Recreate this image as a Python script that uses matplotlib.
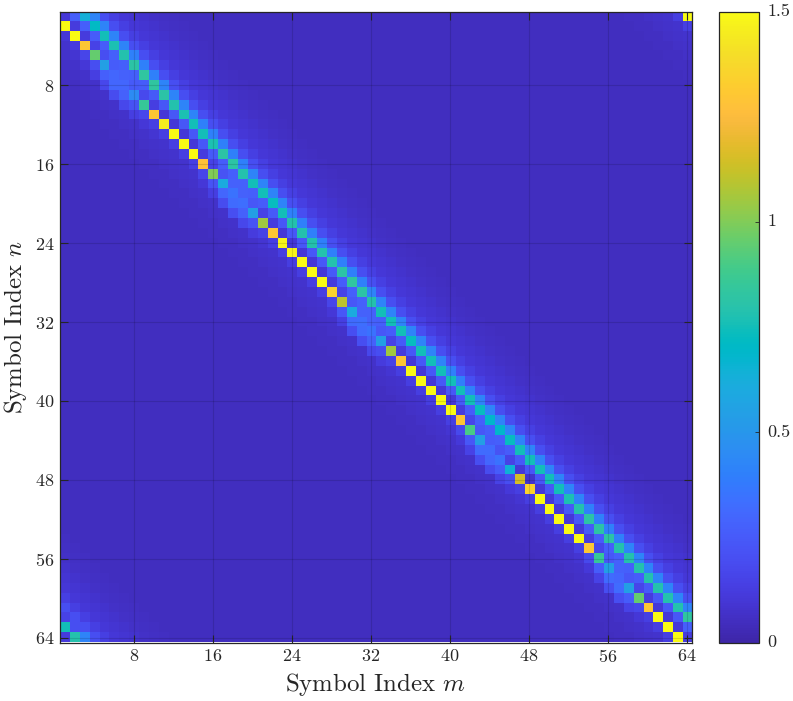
import numpy as np
import matplotlib
matplotlib.use("Agg")
import matplotlib.pyplot as plt
from matplotlib.colors import LinearSegmentedColormap

plt.rcParams['font.family'] = ['cmr10', 'DejaVu Sans']
plt.rcParams['mathtext.fontset'] = 'cm'
plt.rcParams['axes.formatter.use_mathtext'] = True

# values read per diagonal, indexed by column m = 1..64, wrapping round the matrix
below_1 = [1.5,1.5,1.3,.95,.55,.3,.3,.45,.85,1.3,1.45,1.5,1.5,1.5,1.28,1.0,
           .6,.35,.33,.55,1.05,1.3,1.48,1.48,1.5,1.5,1.5,1.35,1.1,.6,.33,.35,
           .55,1.05,1.3,1.5,1.5,1.5,1.5,1.5,1.3,.9,.55,.32,.35,.65,1.15,1.35,
           1.5,1.5,1.5,1.5,1.5,1.3,.85,.55,.3,.55,.95,1.3,1.5,1.5,1.5,1.5]
above_2 = [.75,.79,.63,.71,.75,.77,.79,.81,.83,.83,.81,.79,.77,.75,.75,.77,
           .81,.81,.79,.75,.75,.73,.75,.79,.79,.79,.79,.79,.81,.83,.81,.79,
           .75,.75,.75,.73,.75,.75,.75,.75,.75,.75,.73,.69,.69,.73,.75,.75,
           .75,.75,.75,.77,.79,.81,.81,.81,.79,.79,.79,.79,.79,.79,.79,.83]
above_3 = [.15,.2,.42,.42,.42,.42,.42,.4,.4,.4,.42,.42,.42,.42,.4,.4,
           .4,.4,.4,.42,.42,.42,.42,.4,.4,.4,.4,.4,.4,.4,.4,.42,
           .42,.42,.42,.42,.42,.42,.42,.4,.4,.4,.42,.42,.42,.42,.42,.42,
           .42,.42,.42,.42,.42,.4,.4,.4,.4,.42,.42,.42,.42,.42,.42,.42]
above_1 = [.12,.27,.27,.26,.26,.27,.27,.27,.26,.25,.24,.24,.24,.24,.24,.25,
           .26,.27,.28,.27,.26,.25,.24,.24,.24,.24,.24,.25,.26,.27,.28,.28,
           .27,.26,.25,.24,.24,.24,.24,.24,.25,.26,.27,.27,.27,.26,.25,.24,
           .24,.24,.24,.24,.24,.25,.26,.27,.28,.27,.26,.25,.24,.24,.24,.27]
on_diag = [.1,.12,.12,.15,.2,.26,.28,.25,.18,.13,.1,.1,.1,.1,.12,.15,
           .22,.28,.28,.24,.15,.12,.1,.1,.1,.1,.1,.12,.15,.24,.28,.28,
           .24,.15,.12,.1,.1,.1,.1,.1,.12,.16,.24,.26,.22,.15,.1,.08,
           .1,.1,.1,.1,.1,.12,.16,.24,.28,.24,.16,.12,.1,.1,.1,.12]
below_2 = [.1,.12,.16,.2,.27,.3,.28,.22,.17,.14,.13,.13,.13,.13,.16,.22,
           .3,.32,.28,.22,.15,.13,.13,.13,.13,.13,.13,.16,.24,.32,.32,.28,
           .2,.15,.13,.13,.13,.13,.13,.14,.18,.24,.32,.3,.26,.2,.14,.13,
           .13,.13,.13,.13,.14,.18,.26,.32,.32,.26,.17,.14,.13,.13,.13,.14]
below_3 = [.08,.09,.1,.13,.17,.19,.17,.13,.1,.09,.08,.08,.08,.08,.1,.13,
           .19,.2,.17,.12,.09,.08,.08,.08,.08,.08,.08,.1,.14,.2,.2,.17,
           .12,.09,.08,.08,.08,.08,.08,.09,.11,.15,.2,.19,.15,.11,.09,.08,
           .08,.08,.08,.08,.09,.11,.15,.2,.2,.15,.1,.09,.08,.08,.08,.08]

# the rest of the band only changes with distance from the diagonal
above_far = [.2, .14, .105, .09, .078, .068, .06, .055]   # m-n = 4..11
below_far = [.075, .065, .058, .053]                      # n-m = 4..7
floor_level = .048

n_sym = 64
tick_vals = [8, 16, 24, 32, 40, 48, 56, 64]
cbar_ticks = [0, .5, 1, 1.5]
cbar_labels = ['0', '0.5', '1', '1.5']

# parula
parula_rgb = [
    [.2422,.1504,.6603],[.2504,.1650,.7076],[.2578,.1818,.7511],[.2647,.1978,.7952],
    [.2706,.2147,.8364],[.2751,.2342,.8710],[.2783,.2559,.8991],[.2803,.2782,.9221],
    [.2813,.3006,.9414],[.2810,.3228,.9579],[.2795,.3447,.9717],[.2760,.3667,.9829],
    [.2699,.3892,.9906],[.2602,.4123,.9952],[.2440,.4358,.9988],[.2206,.4603,.9973],
    [.1963,.4847,.9892],[.1834,.5074,.9798],[.1786,.5289,.9682],[.1764,.5499,.9520],
    [.1687,.5703,.9359],[.1540,.5902,.9218],[.1460,.6091,.9079],[.1380,.6276,.8973],
    [.1248,.6459,.8883],[.1113,.6635,.8763],[.0952,.6798,.8598],[.0689,.6948,.8394],
    [.0297,.7082,.8163],[.0036,.7203,.7917],[.0067,.7312,.7660],[.0433,.7411,.7394],
    [.0964,.7500,.7120],[.1408,.7584,.6842],[.1717,.7670,.6554],[.1938,.7758,.6251],
    [.2161,.7843,.5923],[.2470,.7918,.5567],[.2906,.7973,.5188],[.3406,.8008,.4789],
    [.3909,.8029,.4354],[.4456,.8024,.3909],[.5044,.7993,.3480],[.5616,.7942,.3045],
    [.6174,.7876,.2612],[.6720,.7793,.2227],[.7242,.7698,.1910],[.7738,.7598,.1646],
    [.8203,.7498,.1535],[.8634,.7406,.1596],[.9035,.7330,.1774],[.9393,.7288,.2100],
    [.9728,.7298,.2394],[.9956,.7434,.2371],[.9970,.7659,.2199],[.9952,.7861,.1963],
    [.9892,.8086,.1827],[.9786,.8297,.1764],[.9676,.8518,.1683],[.9610,.8741,.1530],
    [.9597,.8994,.1361],[.9628,.9256,.1205],[.9691,.9517,.1052],[.9769,.9839,.0805]]
parula = LinearSegmentedColormap.from_list('parula', parula_rgb, N=256)

mat = np.full((n_sym, n_sym), floor_level)
by_col = {-3: below_3, -2: below_2, -1: below_1, 0: on_diag, 1: above_1, 2: above_2, 3: above_3}
for offset, vals in by_col.items():
    for col in range(n_sym):
        mat[(col - offset) % n_sym, col] = vals[col]
for i, v in enumerate(above_far):
    for col in range(n_sym):
        mat[(col - (i + 4)) % n_sym, col] = v
for i, v in enumerate(below_far):
    for col in range(n_sym):
        mat[(col + (i + 4)) % n_sym, col] = v

W, H = 793, 701
fig = plt.figure(figsize=(W / 100, H / 100), dpi=100)
ax = fig.add_axes([60 / W, 1 - 642.5 / H, 632 / W, 631 / H])
im = ax.imshow(mat, cmap=parula, vmin=0, vmax=1.5, aspect='auto', interpolation='nearest',
               extent=[.5, n_sym + .5, n_sym + .5, .5])

ax.set_xticks(tick_vals)
ax.set_yticks(tick_vals)
ax.tick_params(direction='in', length=6, width=.8, top=True, right=True, labelsize=13,
               color='#262626', labelcolor='#262626', pad=4)
ax.grid(True, color='k', alpha=.13, lw=.8)
ax.set_axisbelow(False)
for s in ax.spines.values():
    s.set_color('#262626')
    s.set_linewidth(.9)

ax.set_xlabel('Symbol Index $m$', fontsize=17.9, color='#262626', labelpad=4)
ax.set_ylabel('Symbol Index $n$', fontsize=17.9, color='#262626', labelpad=4.5)

cax = fig.add_axes([719 / W, 1 - 642.5 / H, 40 / W, 631 / H])
cbar = fig.colorbar(im, cax=cax)
cbar.set_ticks(cbar_ticks)
cbar.set_ticklabels(cbar_labels)
cbar.ax.tick_params(direction='in', length=3, width=.6, labelsize=13, color='#262626',
                    labelcolor='#262626', pad=6)
for lab in cbar.ax.get_yticklabels():
    lab.set_verticalalignment('center')
cbar.outline.set_edgecolor('#262626')
cbar.outline.set_linewidth(.9)

fig.savefig('out.png', dpi=100)
